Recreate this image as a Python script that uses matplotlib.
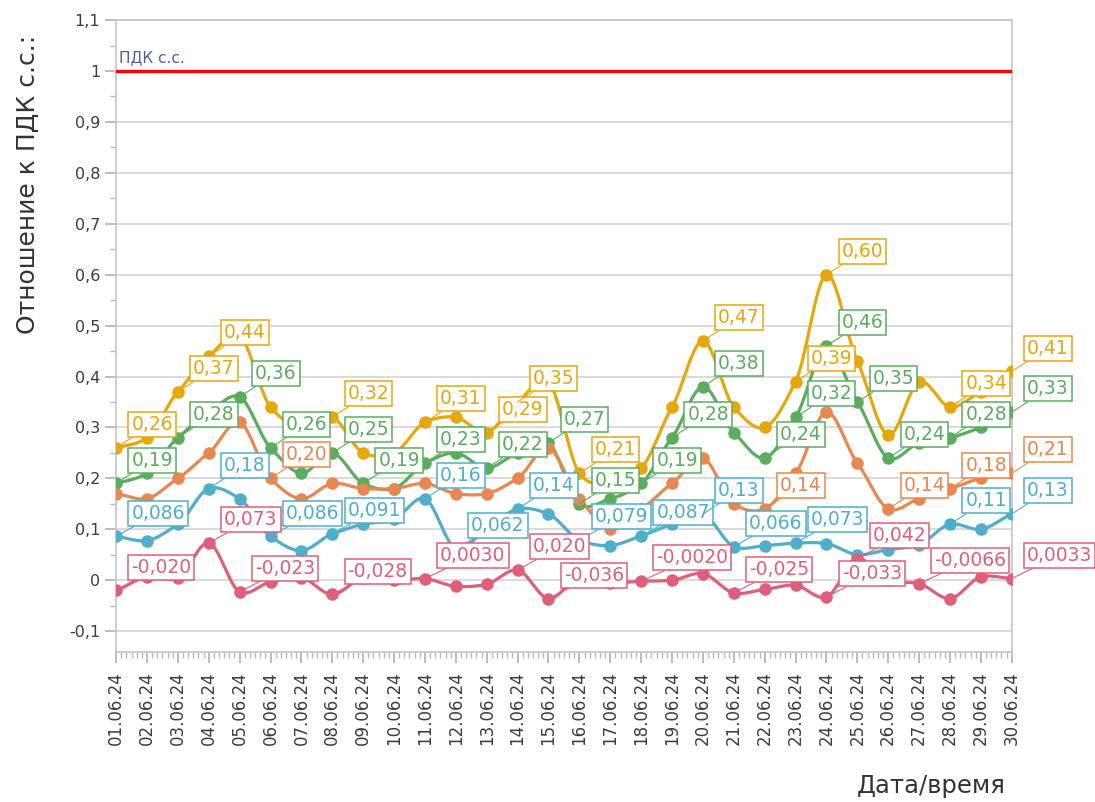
import numpy as np
import matplotlib
matplotlib.use('Agg')
import matplotlib.pyplot as plt
from matplotlib.ticker import FuncFormatter, MultipleLocator, FixedLocator

# даты (ось X)
dates = [f"{d:02d}.06.24" for d in range(1, 31)]
days = np.arange(1, 31)

# отношение к ПДК с.с. по пяти веществам
s_gold = [0.26, 0.28, 0.37, 0.44, 0.48, 0.34, 0.30, 0.32, 0.25, 0.25,
          0.31, 0.32, 0.29, 0.35, 0.39, 0.21, 0.19, 0.22, 0.34, 0.47,
          0.34, 0.30, 0.39, 0.60, 0.43, 0.285, 0.39, 0.34, 0.37, 0.41]
s_green = [0.19, 0.21, 0.28, 0.33, 0.36, 0.26, 0.21, 0.25, 0.19, 0.18,
           0.23, 0.25, 0.22, 0.25, 0.27, 0.15, 0.16, 0.19, 0.28, 0.38,
           0.29, 0.24, 0.32, 0.46, 0.35, 0.24, 0.27, 0.28, 0.30, 0.33]
s_orange = [0.17, 0.16, 0.20, 0.25, 0.31, 0.20, 0.16, 0.19, 0.18, 0.18,
            0.19, 0.17, 0.17, 0.20, 0.26, 0.16, 0.10, 0.14, 0.19, 0.24,
            0.15, 0.14, 0.21, 0.33, 0.23, 0.14, 0.16, 0.18, 0.20, 0.21]
s_blue = [0.086, 0.078, 0.11, 0.18, 0.16, 0.086, 0.058, 0.091, 0.11, 0.12,
          0.16, 0.062, 0.10, 0.14, 0.13, 0.079, 0.068, 0.087, 0.11, 0.13,
          0.066, 0.068, 0.073, 0.072, 0.05, 0.06, 0.07, 0.11, 0.10, 0.13]
s_red = [-0.020, 0.007, 0.005, 0.073, -0.023, -0.003, 0.005, -0.028, 0.005, 0.0,
         0.0030, -0.012, -0.008, 0.020, -0.036, 0.005, -0.005, -0.0020, 0.0, 0.013,
         -0.025, -0.018, -0.010, -0.033, 0.042, 0.0, -0.0066, -0.036, 0.0065, 0.0033]

# какие точки подписаны на графике (индексы дней)
lab_gold = [0, 2, 3, 7, 10, 12, 13, 15, 19, 22, 23, 27, 29]
lab_green = [0, 2, 4, 5, 7, 8, 10, 12, 14, 15, 17, 18, 19, 21, 22, 23, 24, 25, 27, 29]
lab_orange = [5, 21, 25, 27, 29]
lab_blue = [0, 3, 5, 7, 10, 11, 13, 15, 17, 19, 20, 22, 27, 29]
lab_red = [0, 3, 4, 7, 10, 13, 14, 17, 20, 23, 24, 26, 29]

pdk_level = 1.0

series = [
     (s_gold, lab_gold, '#E6A70A'),
     (s_green, lab_green, '#5BAD5E'),
     (s_orange, lab_orange, '#E8874F'),
     (s_blue, lab_blue, '#4FAECA'),
     (s_red, lab_red, '#DE5F7A'),
]


def spline(x, y, n=24, k=0.8):
     # простой кардинальный сплайн (как в DevExpress)
     x = np.asarray(x, float)
     y = np.asarray(y, float)
     m = np.zeros_like(y)
     m[1:-1] = (y[2:] - y[:-2]) / 2 * k
     m[0] = (y[1] - y[0]) * k
     m[-1] = (y[-1] - y[-2]) * k
     xs, ys = [], []
     t = np.linspace(0, 1, n, endpoint=False)
     h00 = 2 * t**3 - 3 * t**2 + 1
     h10 = t**3 - 2 * t**2 + t
     h01 = -2 * t**3 + 3 * t**2
     h11 = t**3 - t**2
     for i in range(len(x) - 1):
          xs.append(x[i] + t * (x[i + 1] - x[i]))
          ys.append(h00 * y[i] + h10 * m[i] + h01 * y[i + 1] + h11 * m[i + 1])
     xs.append([x[-1]])
     ys.append([y[-1]])
     return np.concatenate(xs), np.concatenate(ys)


def fmt_val(v):
     return f"{v:#.2g}".replace('.', ',')


fig = plt.figure(figsize=(10.95, 8.02), dpi=100)
ax = fig.add_axes([0.106, 0.187, 0.818, 0.788])

# линия ПДК
ax.axhline(pdk_level, color='#FF0000', lw=2.4, zorder=3)
ax.text(1.08, pdk_level + 0.012, 'ПДК с.с.', color='#4A6294', fontsize=11,
        ha='left', va='bottom', zorder=4)

for vals, labs, col in series:
     xs, ys = spline(days, vals)
     ax.plot(xs, ys, color=col, lw=2.3, zorder=4, solid_capstyle='round')
     ax.plot(days, vals, 'o', color=col, ms=8, zorder=5)

for vals, labs, col in series:
     for i in labs:
          ax.annotate(fmt_val(vals[i]), xy=(days[i], vals[i]), xytext=(11, 10),
                      textcoords='offset points', ha='left', va='bottom',
                      fontsize=13.5, color=col, zorder=10, annotation_clip=False,
                      bbox=dict(boxstyle='square,pad=0.16', fc='white', ec=col, lw=1.1),
                      arrowprops=dict(arrowstyle='-', color=col, lw=0.8,
                                      shrinkA=0, shrinkB=0))

ax.set_xlim(1, 30)
ax.set_ylim(-0.141, 1.1)

ax.yaxis.set_major_locator(MultipleLocator(0.1))
ax.yaxis.set_minor_locator(MultipleLocator(0.05))
ax.yaxis.set_major_formatter(FuncFormatter(lambda v, p: f"{round(v, 2):g}".replace('.', ',')))
ax.set_xticks(days)
ax.set_xticklabels(dates, rotation=90)
ax.xaxis.set_minor_locator(FixedLocator(np.arange(1, 30.01, 1 / 6)))

ax.grid(axis='y', which='major', color='#D8D8D8', lw=1.3, zorder=0)
for sp in ax.spines.values():
     sp.set_color('#C8C8C8')
     sp.set_linewidth(1.3)

ax.tick_params(axis='both', which='major', colors='#B0B0B0', labelcolor='#3C3C3C',
               labelsize=11.5, length=8, width=1.2)
ax.tick_params(axis='x', which='major', labelsize=12)
ax.tick_params(axis='both', which='minor', colors='#B8B8B8', length=4, width=1)
ax.tick_params(axis='x', pad=6)

ax.set_ylabel('Отношение к ПДК с.с.:', fontsize=18, color='#333333', labelpad=14)
ax.yaxis.set_label_coords(-0.085, 0.74)
fig.text(0.918, 0.005, 'Дата/время', fontsize=17.5, color='#333333', ha='right', va='bottom')

fig.savefig('out.png', dpi=100)
